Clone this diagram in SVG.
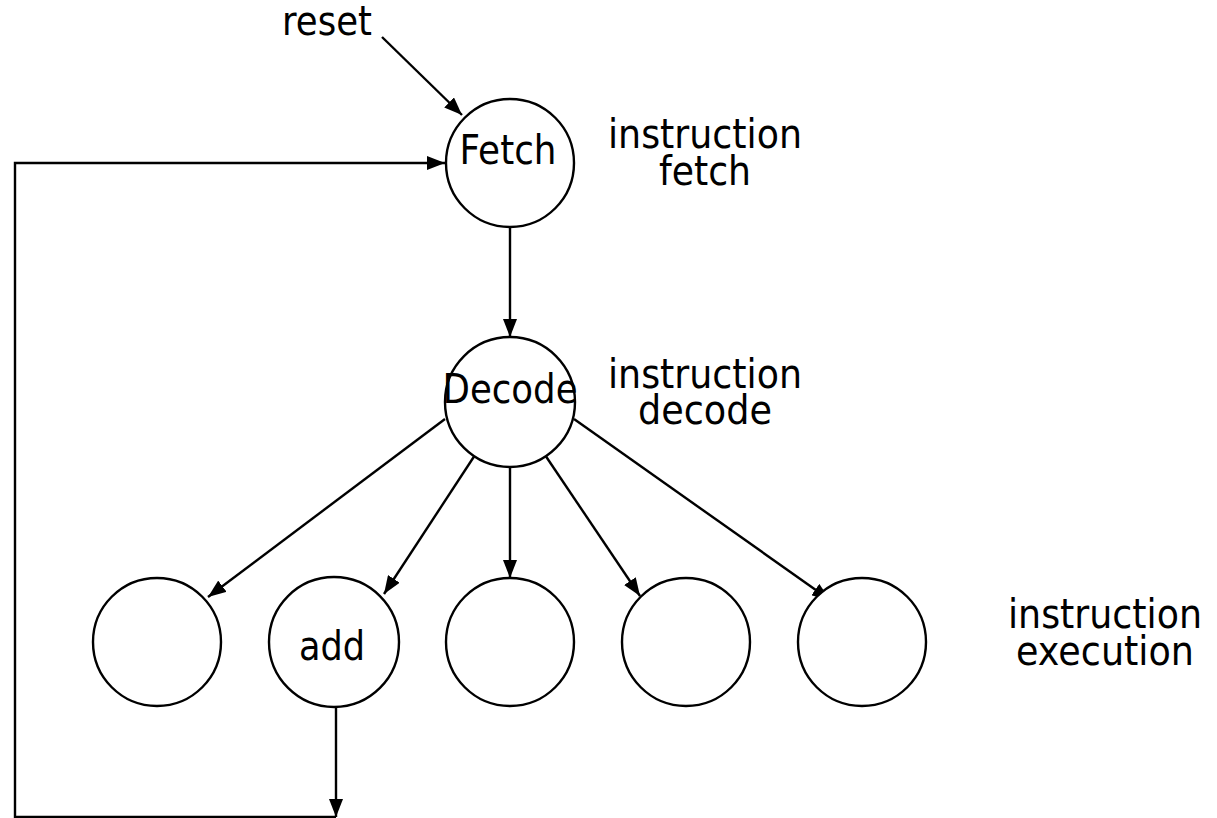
<svg xmlns="http://www.w3.org/2000/svg" width="1217" height="818" viewBox="0 0 1217 818">
<style>
.n{fill:#fff;stroke:#000;stroke-width:2.4}
.c{fill:none;stroke:#000;stroke-width:2.4}
text{font-family:"DejaVu Sans","Liberation Sans",sans-serif;font-size:41px;fill:#000;text-anchor:middle}
</style>
<defs>
<marker id="a" viewBox="0 0 18 14" refX="18" refY="7" markerWidth="18" markerHeight="14" markerUnits="userSpaceOnUse" orient="auto">
<path d="M0,0 L18,7 L0,14 Z" fill="#000"/>
</marker>
</defs>
<rect width="1217" height="818" fill="#fff"/>
<g id="connectors">
<line class="c" x1="382" y1="37" x2="462" y2="115" marker-end="url(#a)"/>
<polyline class="c" points="336,707 336,817" marker-end="url(#a)"/>
<polyline class="c" points="336,817 15,817 15,163 445,163" marker-end="url(#a)"/>
<line class="c" x1="510" y1="228" x2="510" y2="337" marker-end="url(#a)"/>
<line class="c" x1="445" y1="419" x2="208" y2="597" marker-end="url(#a)"/>
<line class="c" x1="477" y1="452" x2="384" y2="594" marker-end="url(#a)"/>
<line class="c" x1="510" y1="467" x2="510" y2="578" marker-end="url(#a)"/>
<line class="c" x1="543" y1="452" x2="640" y2="596" marker-end="url(#a)"/>
<line class="c" x1="574" y1="419" x2="830" y2="600" marker-end="url(#a)"/>
</g>
<g id="reset"><text x="327" y="35" textLength="90" lengthAdjust="spacingAndGlyphs">reset</text></g>
<g id="fetch"><circle class="n" cx="510" cy="163" r="64"/><text x="508" y="164" textLength="97" lengthAdjust="spacingAndGlyphs">Fetch</text></g>
<g id="decode"><circle class="n" cx="510" cy="402" r="65"/><text x="510" y="403" textLength="135" lengthAdjust="spacingAndGlyphs">Decode</text></g>
<g id="exec1"><circle class="n" cx="157" cy="642" r="64"/></g>
<g id="add"><circle class="n" cx="334" cy="642" r="65"/><text x="332" y="660" textLength="66" lengthAdjust="spacingAndGlyphs">add</text></g>
<g id="exec3"><circle class="n" cx="510" cy="642" r="64"/></g>
<g id="exec4"><circle class="n" cx="686" cy="642" r="64"/></g>
<g id="exec5"><circle class="n" cx="862" cy="642" r="64"/></g>
<g id="label-fetch"><text x="705" y="148" textLength="194" lengthAdjust="spacingAndGlyphs">instruction</text><text x="705" y="185" textLength="92" lengthAdjust="spacingAndGlyphs">fetch</text></g>
<g id="label-decode"><text x="705" y="388" textLength="194" lengthAdjust="spacingAndGlyphs">instruction</text><text x="705" y="424" textLength="134" lengthAdjust="spacingAndGlyphs">decode</text></g>
<g id="label-exec"><text x="1105" y="628" textLength="194" lengthAdjust="spacingAndGlyphs">instruction</text><text x="1105" y="665" textLength="178" lengthAdjust="spacingAndGlyphs">execution</text></g>
</svg>
